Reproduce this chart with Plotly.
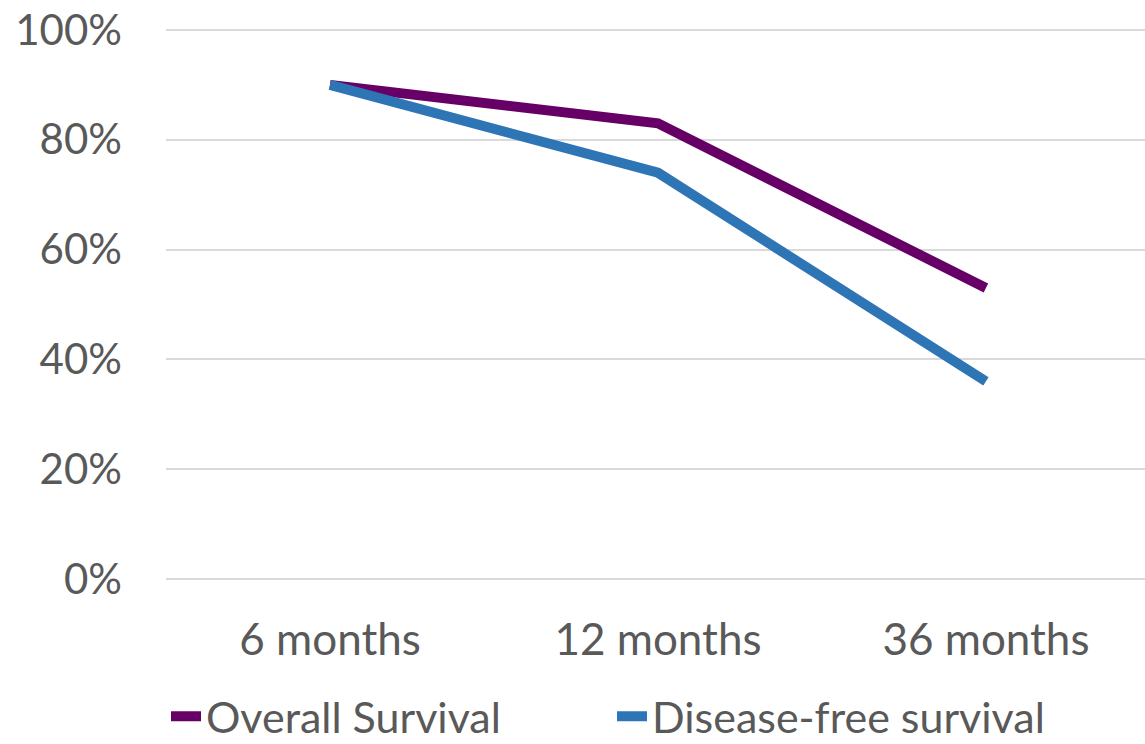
import plotly.graph_objects as go

categories = ["6 months", "12 months", "36 months"]
overall_survival = [0.90, 0.83, 0.53]
disease_free_survival = [0.90, 0.74, 0.36]
y_ticks = [0, 0.2, 0.4, 0.6, 0.8, 1.0]
y_tick_labels = ["0%", "20%", "40%", "60%", "80%", "100%"]

FONT = "Lato"
TXT = "#595959"

fig = go.Figure()
fig.add_trace(go.Scatter(x=categories, y=overall_survival, mode="lines",
                         name="Overall Survival",
                         line=dict(color="#660066", width=10)))
fig.add_trace(go.Scatter(x=categories, y=disease_free_survival, mode="lines",
                         name="Disease-free survival",
                         line=dict(color="#2E75B6", width=10)))

fig.update_layout(
    width=1145, height=744,
    margin=dict(l=166, r=0, t=19, b=154, autoexpand=False),
    paper_bgcolor="white", plot_bgcolor="white",
    font=dict(family=FONT, size=43, color=TXT),
    showlegend=True,
    legend=dict(orientation="h", x=0.0, xanchor="left", y=-0.221, yanchor="middle",
                entrywidth=401, entrywidthmode="pixels",
                font=dict(family=FONT, size=43, color=TXT),
                bgcolor="rgba(0,0,0,0)"),
)
fig.update_xaxes(type="category", range=[-0.5, 2.485], showgrid=False,
                 showline=False, zeroline=False, ticks="", automargin=False,
                 ticklabelstandoff=20,
                 tickfont=dict(family=FONT, size=44, color=TXT))
fig.update_yaxes(range=[-0.02, 1.02], tickvals=y_ticks, ticktext=y_tick_labels,
                 showgrid=True, gridcolor="#D9D9D9", gridwidth=2,
                 zeroline=False, showline=False, ticks="", automargin=False,
                 ticklabelstandoff=43,
                 tickfont=dict(family=FONT, size=42, color=TXT))

fig.write_html("out.html", config={"displayModeBar": False},
               post_script="document.body.style.margin='0';document.body.style.padding='0';")
